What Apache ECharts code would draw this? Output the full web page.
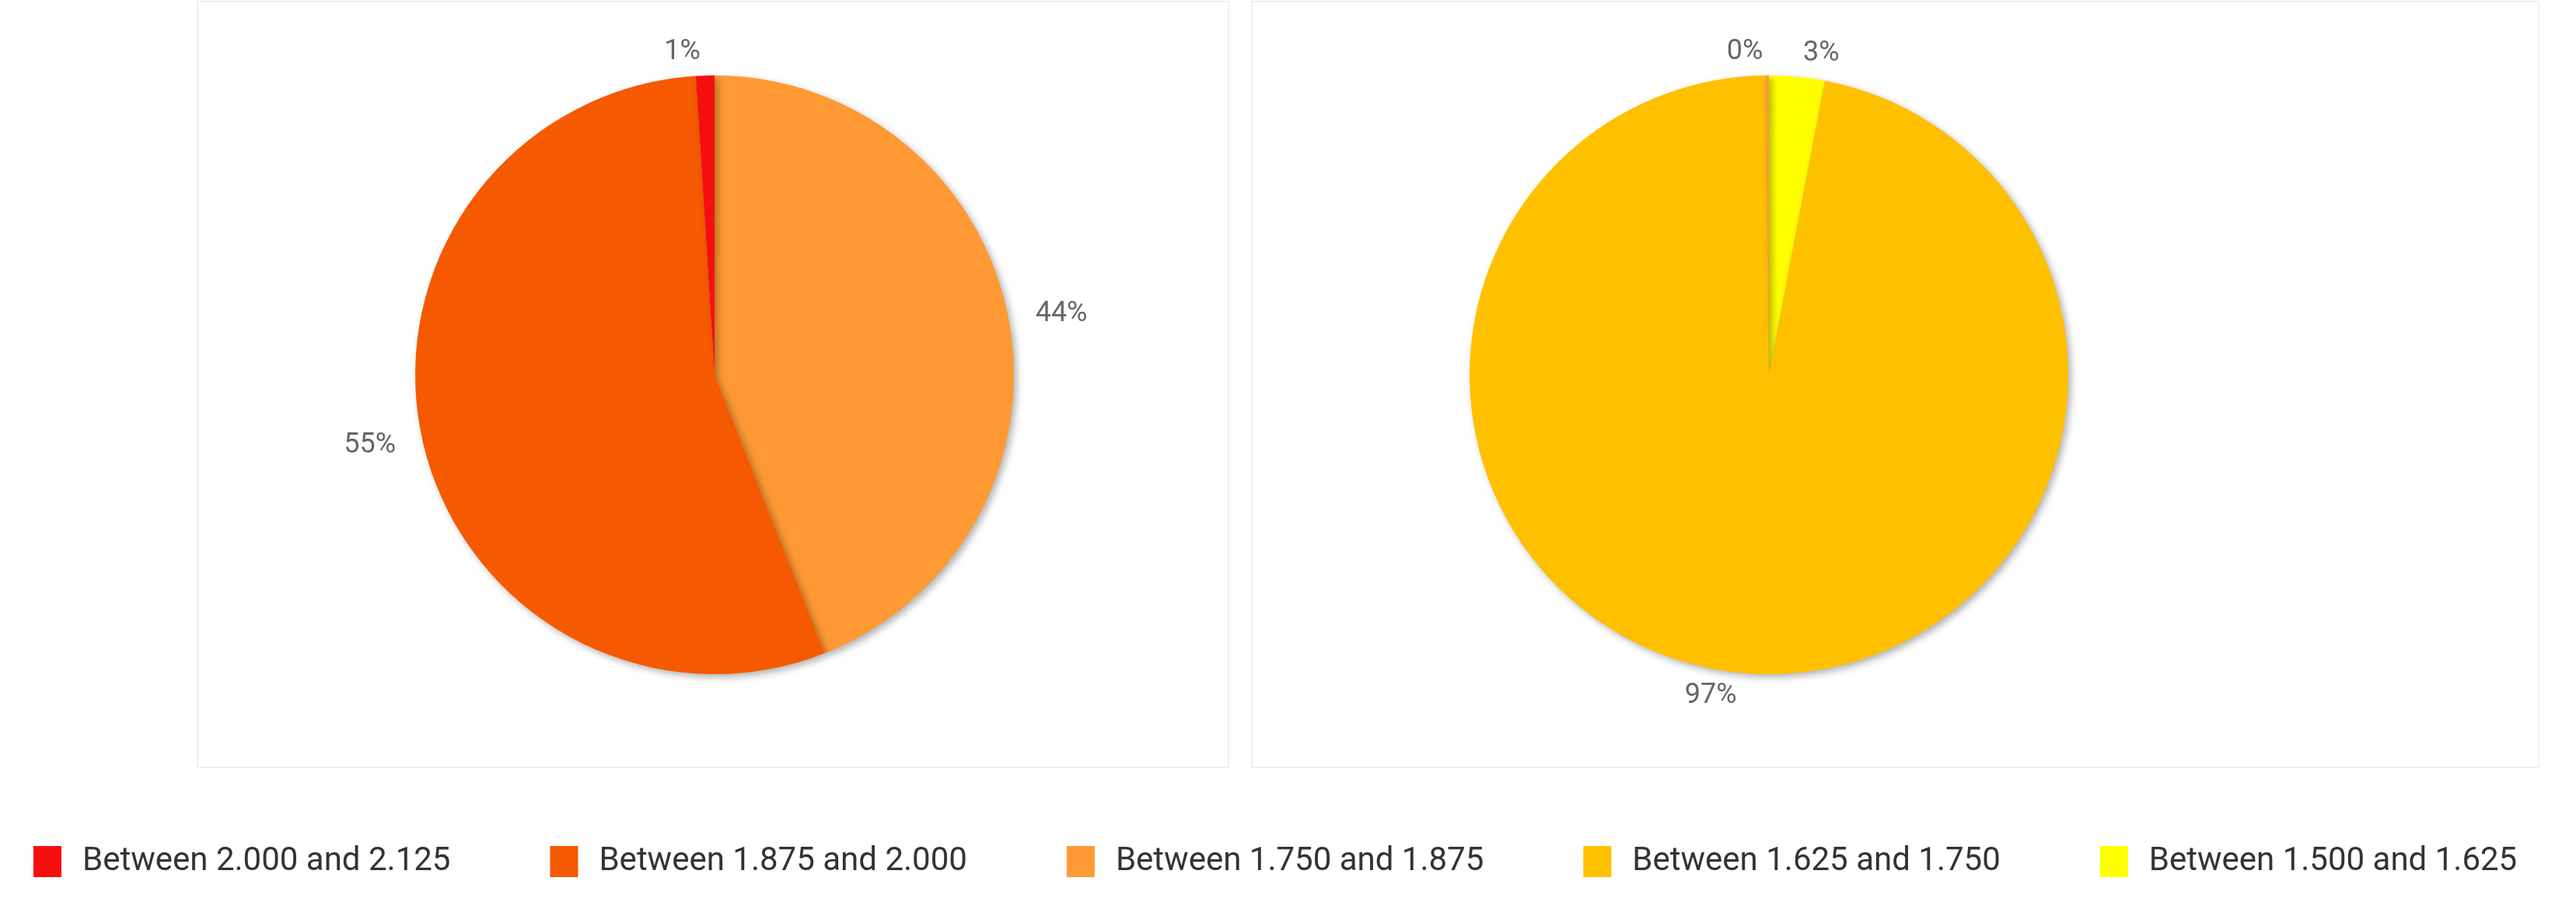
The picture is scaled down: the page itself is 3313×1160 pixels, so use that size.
<!DOCTYPE html>
<html>
<head>
<meta charset="utf-8">
<script src="https://cdn.jsdelivr.net/npm/echarts@6/dist/echarts.min.js"></script>
<style>html,body{margin:0;background:#fff}#main{width:3313px;height:1160px}</style>
</head>
<body>
<div id="main"></div>
<script>
var categories = ['Between 2.000 and 2.125', 'Between 1.875 and 2.000', 'Between 1.750 and 1.875', 'Between 1.625 and 1.750', 'Between 1.500 and 1.625'];
var colors = ['#f50f0f', '#f55a00', '#ff9933', '#ffc000', '#ffff00'];
// clockwise from 12 o'clock
var leftNames = ['Between 1.750 and 1.875', 'Between 1.875 and 2.000', 'Between 2.000 and 2.125'];
var leftValues = [44, 55, 1];
var rightNames = ['Between 1.500 and 1.625', 'Between 1.625 and 1.750', 'Between 1.750 and 1.875'];
var rightValues = [3, 97, 0.2];

function colorOf(n){ return colors[categories.indexOf(n)]; }
function build(names, values){
  return names.map(function(n, i){
    return { name: n, value: values[i], itemStyle: { color: colorOf(n) } };
  });
}
function pieSeries(center, data){
  return {
    type: 'pie',
    center: center,
    radius: 385,
    clockwise: true,
    startAngle: 90,
    data: data,
    label: {
      position: 'outside',
      color: '#666',
      fontSize: 36,
      fontFamily: 'Roboto',
      formatter: function(p){ return Math.round(p.percent) + '%'; }
    },
    labelLine: { show: false, length: 30, length2: 0 },
    itemStyle: { shadowBlur: 10, shadowOffsetX: 4, shadowOffsetY: 4, shadowColor: 'rgba(0,0,0,0.3)' },
    emphasis: { disabled: true }
  };
}

var chart = echarts.init(document.getElementById('main'));
chart.setOption({
  animation: false,
  graphic: [
    { type: 'rect', shape: { x: 254, y: 2, width: 1326, height: 985 }, style: { fill: 'none', stroke: '#f0f0f0', lineWidth: 2 } },
    { type: 'rect', shape: { x: 1610, y: 2, width: 1655, height: 985 }, style: { fill: 'none', stroke: '#f0f0f0', lineWidth: 2 } }
  ],
  legend: {
    data: categories,
    left: 38,
    top: 1082,
    itemWidth: 36,
    itemHeight: 40,
    itemGap: 128,
    icon: 'rect',
    textStyle: { fontSize: 42, color: '#333', fontFamily: 'Roboto', padding: [0, 0, 0, 22] }
  },
  series: [
    pieSeries([919, 482], build(leftNames, leftValues)),
    pieSeries([2275, 482], build(rightNames, rightValues))
  ]
});
</script>
</body>
</html>
